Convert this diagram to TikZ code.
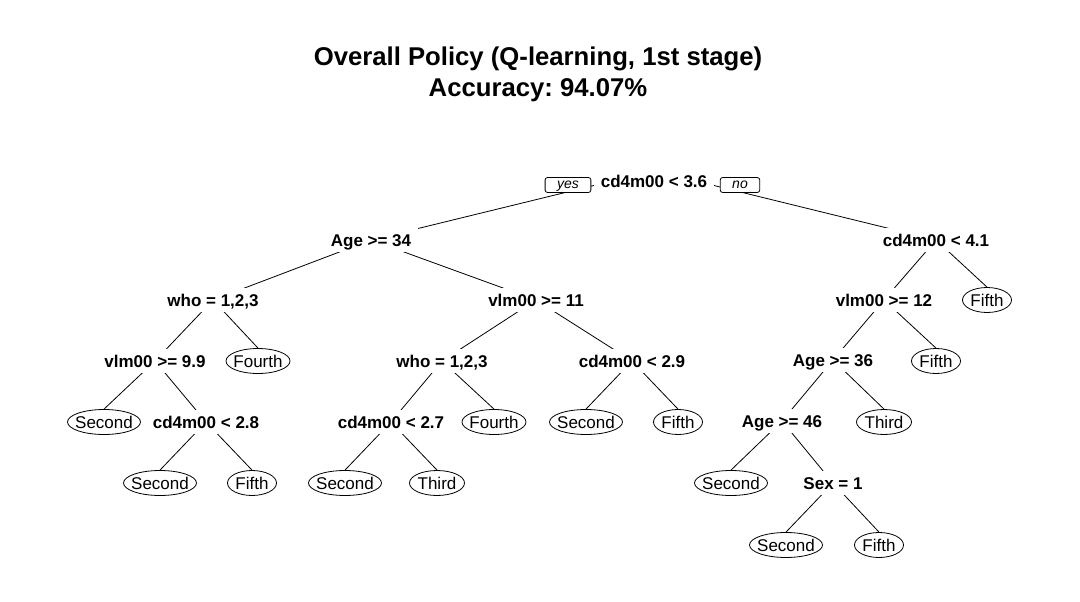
\documentclass[tikz,border=0pt]{standalone}
\usepackage{fontspec}
\setmainfont{Liberation Sans}
\usetikzlibrary{shapes.geometric}
\pgfdeclarelayer{bg}
\pgfsetlayers{bg,main}
\frenchspacing
\begin{document}
\begin{tikzpicture}[x=1pt,y=-1pt,
  split/.style={fill=white, inner xsep=7pt, inner ysep=4pt, text height=14pt, text depth=2pt,
    font=\fontsize{17}{17}\selectfont\bfseries},
  leaf/.style={ellipse, draw, fill=white, line width=0.8pt, inner sep=-20pt,
    minimum width=#1, minimum height=25pt, text height=12.3pt, text depth=0pt,
    font=\fontsize{17}{17}\selectfont},
  yn/.style={draw, fill=white, rounded corners=2.5pt, line width=0.8pt, inner xsep=12pt,
    inner ysep=0pt, minimum height=15pt, text height=10pt, text depth=3pt,
    font=\fontsize{14}{14}\selectfont\itshape},
  ttl/.style={anchor=base, font=\fontsize{25.7}{30}\selectfont\bfseries},
  edge/.style={line width=0.8pt}
]
\useasboundingbox (0,0) rectangle (1080,602);

\node[ttl] (t1) at (538,66) {Overall Policy (Q-learning, 1st stage)};
\node[ttl] (t2) at (538,97) {Accuracy: 94.07\%};

% split nodes
\node[split] (root) at (654,181) {cd4m00 < 3.6};
\node[split] (ageA) at (371,240) {Age >= 34};
\node[split] (cdB)  at (936,240) {cd4m00 < 4.1};
\node[split] (whoC) at (213,300) {who = 1,2,3};
\node[split] (vlmD) at (536,300) {vlm00 >= 11};
\node[split] (vlmE) at (884,300) {vlm00 >= 12};
\node[split] (vlmF) at (155,361) {vlm00 >= 9.9};
\node[split] (whoG) at (442,361) {who = 1,2,3};
\node[split] (cdH)  at (632,361) {cd4m00 < 2.9};
\node[split] (ageI) at (833,360) {Age >= 36};
\node[split] (cdJ)  at (206,422) {cd4m00 < 2.8};
\node[split] (cdK)  at (391,422) {cd4m00 < 2.7};
\node[split] (ageL) at (782,421) {Age >= 46};
\node[split] (sexM) at (833,483) {Sex = 1};

% leaves
\node[leaf=49pt] (fifth1)  at (987,300) {Fifth};
\node[leaf=64pt] (fourth1) at (258,361) {Fourth};
\node[leaf=49pt] (fifth2)  at (936,361) {Fifth};
\node[leaf=73pt] (second1) at (104,422) {Second};
\node[leaf=64pt] (fourth2) at (494,422) {Fourth};
\node[leaf=73pt] (second2) at (586,422) {Second};
\node[leaf=49pt] (fifth3)  at (678,422) {Fifth};
\node[leaf=55pt] (third1)  at (884,422) {Third};
\node[leaf=73pt] (second3) at (160,483) {Second};
\node[leaf=49pt] (fifth4)  at (252,483) {Fifth};
\node[leaf=73pt] (second4) at (345,483) {Second};
\node[leaf=55pt] (third2)  at (437,483) {Third};
\node[leaf=73pt] (second5) at (731,483) {Second};
\node[leaf=73pt] (second6) at (786,545) {Second};
\node[leaf=49pt] (fifth5)  at (879,545) {Fifth};

% yes / no
\node[yn] (yes) at (568,185) {yes};
\node[yn] (no)  at (740,185) {no};

\begin{pgfonlayer}{bg}
\fill[white] (0,0) rectangle (1080,602);
\coordinate (rootTop) at ([yshift=-2pt]root.north);
\draw[edge] (rootTop) -- (ageA.center);
\draw[edge] (rootTop) -- (cdB.center);
\draw[edge] (ageA.center) -- (whoC.center);
\draw[edge] (ageA.center) -- (vlmD.center);
\draw[edge] (whoC.center) -- (vlmF.center);
\draw[edge] (whoC.center) -- (fourth1.north);
\draw[edge] (vlmF.center) -- (second1.north);
\draw[edge] (vlmF.center) -- (cdJ.center);
\draw[edge] (cdJ.center) -- (second3.north);
\draw[edge] (cdJ.center) -- (fifth4.north);
\draw[edge] (vlmD.center) -- (whoG.center);
\draw[edge] (vlmD.center) -- (cdH.center);
\draw[edge] (whoG.center) -- (cdK.center);
\draw[edge] (whoG.center) -- (fourth2.north);
\draw[edge] (cdK.center) -- (second4.north);
\draw[edge] (cdK.center) -- (third2.north);
\draw[edge] (cdH.center) -- (second2.north);
\draw[edge] (cdH.center) -- (fifth3.north);
\draw[edge] (cdB.center) -- (vlmE.center);
\draw[edge] (cdB.center) -- (fifth1.north);
\draw[edge] (vlmE.center) -- (ageI.center);
\draw[edge] (vlmE.center) -- (fifth2.north);
\draw[edge] (ageI.center) -- (ageL.center);
\draw[edge] (ageI.center) -- (third1.north);
\draw[edge] (ageL.center) -- (second5.north);
\draw[edge] (ageL.center) -- (sexM.center);
\draw[edge] (sexM.center) -- (second6.north);
\draw[edge] (sexM.center) -- (fifth5.north);
\end{pgfonlayer}
\end{tikzpicture}
\end{document}
